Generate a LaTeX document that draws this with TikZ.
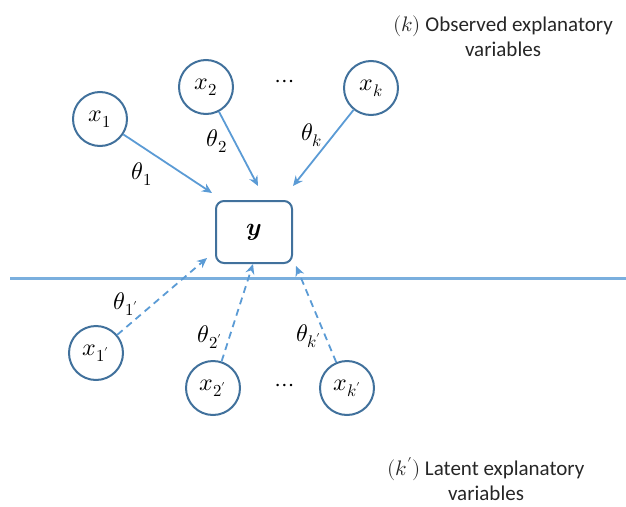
\documentclass[tikz,border=0pt]{standalone}
\usepackage{fontspec}
\usepackage{unicode-math}
\setmainfont{Carlito}
\setmathfont{Latin Modern Math}
\usetikzlibrary{arrows.meta}
\definecolor{dkblue}{HTML}{41719C}
\definecolor{ltblue}{HTML}{5B9BD5}
\definecolor{lnblue}{HTML}{7AAFDE}
\begin{document}
\begin{tikzpicture}[x=1pt,y=-1pt,
  var/.style={circle,draw=dkblue,line width=2pt,minimum size=54pt,inner sep=0pt,font=\fontsize{24}{26}\selectfont},
  ybox/.style={rectangle,rounded corners=8pt,draw=dkblue,line width=2pt,minimum width=76pt,minimum height=62pt,inner sep=0pt,font=\fontsize{25}{26}\selectfont},
  arr/.style={draw=ltblue,line width=1.8pt,-{Stealth[length=10pt,width=9pt]}},
  darr/.style={arr,dash pattern=on 7pt off 5pt},
  lab/.style={font=\fontsize{24}{26}\selectfont,inner sep=0pt},
  txt/.style={align=center,font=\fontsize{21}{25}\selectfont,text=black!85,inner sep=0pt}]
\useasboundingbox (0,0) rectangle (626,506);
% observed
\node[var] (x1) at (100,119) {$x_1$};
\node[var] (x2) at (206,87) {$x_2$};
\node[var] (xk) at (371,88) {$x_k$};
\node[lab] (dots1) at (285,84) {$\cdots$};
\node[ybox] (y) at (254,232) {$\symbfit{y}$};
\coordinate (e1) at (212,193);
\coordinate (e2) at (258,186);
\coordinate (ek) at (293,186);
\draw[arr] (x1) -- (e1);
\draw[arr] (x2) -- (e2);
\draw[arr] (xk) -- (ek);
\node[lab] (t1) at (142,174) {$\theta_1$};
\node[lab] (t2) at (217,141) {$\theta_2$};
\node[lab] (tk) at (312,135) {$\theta_k$};
% separator
\coordinate (l0) at (10,278);
\coordinate (l1) at (626,278);
\draw[lnblue,line width=3pt] (l0) -- (l1);
% latent
\node[var] (x1p) at (96,353) {$x_{1'}$};
\node[var] (x2p) at (213,388) {$x_{2'}$};
\node[var] (xkp) at (347,388) {$x_{k'}$};
\node[lab] (dots2) at (285,388) {$\cdots$};
\coordinate (f1) at (207,258);
\coordinate (f2) at (253,264);
\coordinate (fk) at (296,266);
\draw[darr] (x1p) -- (f1);
\draw[darr] (x2p) -- (f2);
\draw[darr] (xkp) -- (fk);
\node[lab] (t1p) at (126,304) {$\theta_{1'}$};
\node[lab] (t2p) at (210,337) {$\theta_{2'}$};
\node[lab] (tkp) at (309,336) {$\theta_{k'}$};
% texts
\node[txt] (obs) at (503,36) {$(k)$ Observed explanatory\\variables};
\node[txt] (lat) at (486,479) {$(k')$ Latent explanatory\\variables};
\end{tikzpicture}
\end{document}
